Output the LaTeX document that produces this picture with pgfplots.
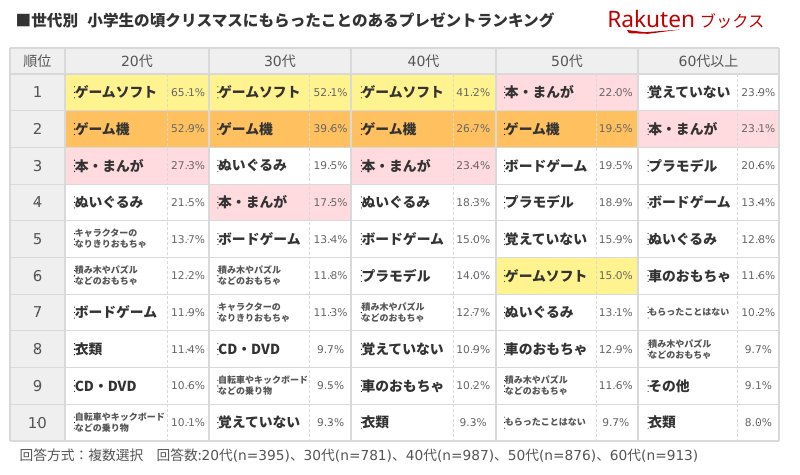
\documentclass[border=0pt]{standalone}
\usepackage{pgfplots}
\pgfplotsset{compat=1.18}
\usepackage{pgfplotstable}
\usepackage{fontspec}
\setmainfont{Noto Sans CJK JP}
\newfontfamily\dv{DejaVu Sans}
\newfontfamily\nsans{Noto Sans}
\definecolor{yel}{HTML}{FFF38F}
\definecolor{org}{HTML}{FFC160}
\definecolor{pnk}{HTML}{FFDBDF}
\definecolor{hdr}{HTML}{EFEFEF}
\definecolor{gridc}{HTML}{D9D9D9}
\definecolor{txt}{HTML}{333333}
\definecolor{txt2}{HTML}{555555}
\definecolor{txt3}{HTML}{666666}
\definecolor{rak}{HTML}{BF0000}

\pgfplotstableread[col sep=comma]{
g,r,big,sm,s1,s2,pct
0,1,ゲームソフト,,,,65.1
0,2,ゲーム機,,,,52.9
0,3,本・まんが,,,,27.3
0,4,ぬいぐるみ,,,,21.5
0,5,,,キャラクターの,なりきりおもちゃ,13.7
0,6,,,積み木やパズル,などのおもちゃ,12.2
0,7,ボードゲーム,,,,11.9
0,8,衣類,,,,11.4
0,9,CD・DVD,,,,10.6
0,10,,,自転車やキックボード,などの乗り物,10.1
1,1,ゲームソフト,,,,52.1
1,2,ゲーム機,,,,39.6
1,3,ぬいぐるみ,,,,19.5
1,4,本・まんが,,,,17.5
1,5,ボードゲーム,,,,13.4
1,6,,,積み木やパズル,などのおもちゃ,11.8
1,7,,,キャラクターの,なりきりおもちゃ,11.3
1,8,CD・DVD,,,,9.7
1,9,,,自転車やキックボード,などの乗り物,9.5
1,10,覚えていない,,,,9.3
2,1,ゲームソフト,,,,41.2
2,2,ゲーム機,,,,26.7
2,3,本・まんが,,,,23.4
2,4,ぬいぐるみ,,,,18.3
2,5,ボードゲーム,,,,15.0
2,6,プラモデル,,,,14.0
2,7,,,積み木やパズル,などのおもちゃ,12.7
2,8,覚えていない,,,,10.9
2,9,車のおもちゃ,,,,10.2
2,10,衣類,,,,9.3
3,1,本・まんが,,,,22.0
3,2,ゲーム機,,,,19.5
3,3,ボードゲーム,,,,19.5
3,4,プラモデル,,,,18.9
3,5,覚えていない,,,,15.9
3,6,ゲームソフト,,,,15.0
3,7,ぬいぐるみ,,,,13.1
3,8,車のおもちゃ,,,,12.9
3,9,,,積み木やパズル,などのおもちゃ,11.6
3,10,,もらったことはない,,,9.7
4,1,覚えていない,,,,23.9
4,2,本・まんが,,,,23.1
4,3,プラモデル,,,,20.6
4,4,ボードゲーム,,,,13.4
4,5,ぬいぐるみ,,,,12.8
4,6,車のおもちゃ,,,,11.6
4,7,,もらったことはない,,,10.2
4,8,,,積み木やパズル,などのおもちゃ,9.7
4,9,その他,,,,9.1
4,10,衣類,,,,8.0
}\ranking

\pgfplotsset{
  txtplot/.style={only marks, mark=*, mark size=0.1pt, mark options={draw=none,fill=none},
    point meta=explicit symbolic, nodes near coords={\pgfplotspointmeta}},
}

\begin{document}
\begin{tikzpicture}
\begin{axis}[width=600pt,height=356.25pt,scale only axis,hide axis,clip=false,
  xmin=0,xmax=800,ymin=0,ymax=475,y dir=reverse]
% backgrounds
\addplot[draw=none,fill=white,mark=none] coordinates {(0,0)(800,0)(800,475)(0,475)} --cycle;
\addplot[draw=none,fill=hdr,mark=none] coordinates {(10,48)(779,48)(779,74)(10,74)} --cycle;
\addplot[draw=none,fill=hdr,mark=none] coordinates {(10,74)(65,74)(65,441)(10,441)} --cycle;
% highlighted cells
\addplot[draw=none,fill=yel,mark=none] coordinates {(65,74)(496,74)(496,110.7)(65,110.7)} --cycle;
\addplot[draw=none,fill=yel,mark=none] coordinates {(496,257.5)(638,257.5)(638,294.2)(496,294.2)} --cycle;
\addplot[draw=none,fill=org,mark=none] coordinates {(65,110.7)(638,110.7)(638,147.4)(65,147.4)} --cycle;
\addplot[draw=none,fill=pnk,mark=none] coordinates {(65,147.4)(209,147.4)(209,184.1)(65,184.1)} --cycle;
\addplot[draw=none,fill=pnk,mark=none] coordinates {(209,184.1)(351,184.1)(351,220.8)(209,220.8)} --cycle;
\addplot[draw=none,fill=pnk,mark=none] coordinates {(351,147.4)(496,147.4)(496,184.1)(351,184.1)} --cycle;
\addplot[draw=none,fill=pnk,mark=none] coordinates {(496,74)(638,74)(638,110.7)(496,110.7)} --cycle;
\addplot[draw=none,fill=pnk,mark=none] coordinates {(638,110.7)(779,110.7)(779,147.4)(638,147.4)} --cycle;
% grid lines
\addplot[gridc,line width=0.8pt,mark=none,unbounded coords=jump] coordinates {
(10,48)(779,48)(779,nan)
(10,74)(779,74)(779,nan)
(10,110.7)(779,110.7)(779,nan)
(10,147.4)(779,147.4)(779,nan)
(10,184.1)(779,184.1)(779,nan)
(10,220.8)(779,220.8)(779,nan)
(10,257.5)(779,257.5)(779,nan)
(10,294.2)(779,294.2)(779,nan)
(10,330.9)(779,330.9)(779,nan)
(10,367.6)(779,367.6)(779,nan)
(10,404.3)(779,404.3)(779,nan)
(10,441)(779,441)(779,nan)
(10,48)(10,441)(10,nan)
(65,48)(65,441)(65,nan)
(209,48)(209,441)(209,nan)
(351,48)(351,441)(351,nan)
(496,48)(496,441)(496,nan)
(638,48)(638,441)(638,nan)
(779,48)(779,441)
};
\addplot[gridc,line width=0.6pt,mark=none,dash pattern=on 2.2pt off 1.5pt,unbounded coords=jump] coordinates {
(167,74)(167,441)(167,nan)
(309,74)(309,441)(309,nan)
(453,74)(453,441)(453,nan)
(596,74)(596,441)(596,nan)
(737,74)(737,441)
};
% header labels
\node[text=txt2,font=\fontsize{10.5}{12}\selectfont] at (axis cs:37.5,61) {順位};
\node[text=txt2,font=\fontsize{10.5}{12}\selectfont] at (axis cs:137,61) {{\dv 20}代};
\node[text=txt2,font=\fontsize{10.5}{12}\selectfont] at (axis cs:280,61) {{\dv 30}代};
\node[text=txt2,font=\fontsize{10.5}{12}\selectfont] at (axis cs:423.5,61) {{\dv 40}代};
\node[text=txt2,font=\fontsize{10.5}{12}\selectfont] at (axis cs:567,61) {{\dv 50}代};
\node[text=txt2,font=\fontsize{10.5}{12}\selectfont] at (axis cs:708.5,61) {{\dv 60}代以上};
% rank numbers
\addplot[txtplot,skip coords between index={10}{50},
  nodes near coords style={anchor=center,inner sep=0pt,font=\dv\fontsize{11.2}{12}\selectfont,text=txt2}]
  table[x expr=37.5,y expr=74+36.7*(\thisrow{r}-0.5),meta=r] {\ranking};
% big names
\addplot[txtplot,
  nodes near coords style={anchor=west,inner sep=0pt,font=\bfseries\fontsize{10.35}{12}\selectfont,text=txt}]
  table[x expr=74.5+143.4*\thisrow{g},y expr=74+36.7*(\thisrow{r}-0.5),meta=big] {\ranking};
% small single-line names
\addplot[txtplot,
  nodes near coords style={anchor=west,inner sep=0pt,font=\bfseries\fontsize{6.75}{8}\selectfont,text=txt2}]
  table[x expr=74.5+143.4*\thisrow{g},y expr=74+36.7*(\thisrow{r}-0.5),meta=sm] {\ranking};
% small two-line names
\addplot[txtplot,
  nodes near coords style={anchor=west,inner sep=0pt,font=\bfseries\fontsize{6.75}{8}\selectfont,text=txt2}]
  table[x expr=74.5+143.4*\thisrow{g},y expr=74+36.7*(\thisrow{r}-0.5)-5.5,meta=s1] {\ranking};
\addplot[txtplot,
  nodes near coords style={anchor=west,inner sep=0pt,font=\bfseries\fontsize{6.75}{8}\selectfont,text=txt2}]
  table[x expr=74.5+143.4*\thisrow{g},y expr=74+36.7*(\thisrow{r}-0.5)+5.5,meta=s2] {\ranking};
% percentages
\addplot[txtplot,nodes near coords={\pgfplotspointmeta\%},
  nodes near coords style={anchor=center,inner sep=0pt,font=\dv\fontsize{8}{9}\selectfont,text=txt3}]
  table[x expr=188+142.6*\thisrow{g},y expr=74+36.7*(\thisrow{r}-0.5),meta=pct] {\ranking};
% title, logo, footer
\node[anchor=west,text=txt,font=\bfseries\fontsize{11.7}{13}\selectfont] at (axis cs:11,20)
  {■世代別\hspace{7pt}小学生の頃クリスマスにもらったことのあるプレゼントランキング};
\node[anchor=base west,text=rak,inner sep=0pt] at (axis cs:607,27)
  {{\nsans\fontsize{17}{17}\selectfont Rakuten}\hspace{3.5pt}{\fontsize{12.2}{13}\selectfont ブックス}};
\addplot[draw=none,fill=rak,mark=none] coordinates {(627,30)(645,32.2)(680,29.6)(648,33.8)(629,33.2)} --cycle;
\node[anchor=west,text=txt2,font=\fontsize{10.3}{11}\selectfont] at (axis cs:15,456)
  {回答方式：複数選択\hspace{10pt}回答数:{\dv 20}代{\dv (n=395)}、{\dv 30}代{\dv (n=781)}、{\dv 40}代{\dv (n=987)}、{\dv 50}代{\dv (n=876)}、{\dv 60}代{\dv (n=913)}};
\end{axis}
\end{tikzpicture}
\end{document}
